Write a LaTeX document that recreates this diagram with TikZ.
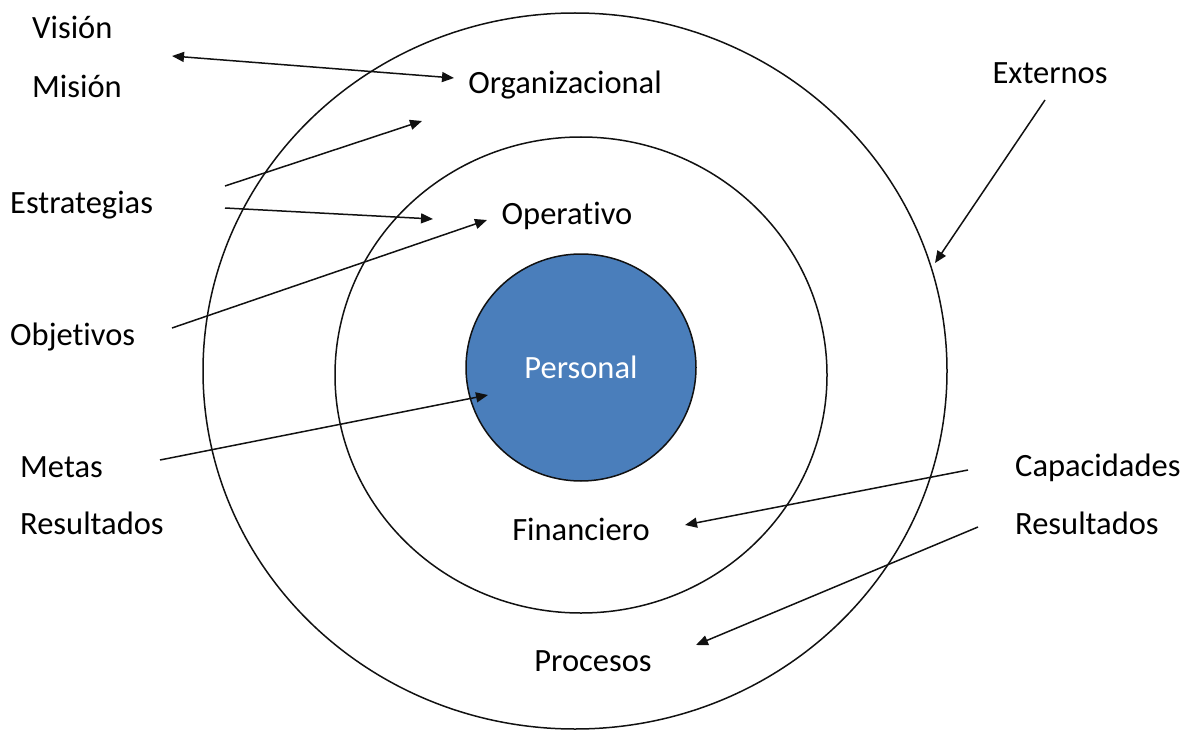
\documentclass[tikz,border=0pt]{standalone}
\usepackage{fontspec}
\setmainfont{Carlito}[Ligatures=NoCommon]
\usetikzlibrary{arrows.meta}
\definecolor{bluex}{HTML}{4A7EBB}
\definecolor{inkx}{HTML}{111111}
\tikzset{
  ar/.style={-{Triangle[length=12pt,width=10pt]},line width=1.5pt,inkx},
  ring/.style={line width=1.5pt,draw=inkx},
  lbl/.style={font=\fontsize{32.5}{38}\selectfont,inner sep=0pt}
}

\begin{document}
\begin{tikzpicture}[x=1pt,y=-1pt]
\useasboundingbox (0,0) rectangle (1183,730);
% rings
\draw[ring] (575,371) ellipse [x radius=372,y radius=358];
\draw[ring] (581,375) ellipse [x radius=246,y radius=238];
\filldraw[ring,fill=bluex] (581,367.5) ellipse [x radius=115,y radius=113.5];
% labels inside
\node[lbl,anchor=mid] (org) at (565,91) {Organizacional};
\node[lbl,anchor=mid] (ope) at (567,222) {Operativo};
\node[lbl,anchor=mid,white] (per) at (581,376) {Personal};
\node[lbl,anchor=mid] (fin) at (581,538) {Financiero};
\node[lbl,anchor=mid] (pro) at (593,669) {Procesos};
% labels outside
\node[lbl,anchor=mid west] (vis) at (32,36) {Visión};
\node[lbl,anchor=mid west] (mis) at (32,95) {Misión};
\node[lbl,anchor=mid west] (est) at (10,211) {Estrategias};
\node[lbl,anchor=mid west] (obj) at (10,343) {Objetivos};
\node[lbl,anchor=mid west] (met) at (20,475) {Metas};
\node[lbl,anchor=mid west] (resl) at (20,532) {Resultados};
\node[lbl,anchor=mid] (ext) at (1050,81) {Externos};
\node[lbl,anchor=mid west] (cap) at (1015,474) {Capacidades};
\node[lbl,anchor=mid west] (resr) at (1015,532) {Resultados};
% arrow ends
\coordinate (vm0) at (172,56);   \coordinate (vm1) at (454,78);
\coordinate (e0) at (225,186);   \coordinate (e1) at (422,121);
\coordinate (e2) at (225,208);   \coordinate (e3) at (433,219);
\coordinate (ob0) at (172,328);  \coordinate (ob1) at (487,220);
\coordinate (me0) at (160,460);  \coordinate (me1) at (488,395);
\coordinate (ex0) at (1045,100); \coordinate (ex1) at (935,263);
\coordinate (ca0) at (968,470);  \coordinate (ca1) at (685,525);
\coordinate (re0) at (978,527);  \coordinate (re1) at (696,645);
\draw[ar,{Triangle[length=12pt,width=10pt]}-{Triangle[length=12pt,width=10pt]}] (vm0) -- (vm1);
\foreach \a/\b in {e0/e1,e2/e3,ob0/ob1,me0/me1,ex0/ex1,ca0/ca1,re0/re1}
  \draw[ar] (\a) -- (\b);
\end{tikzpicture}
\end{document}
